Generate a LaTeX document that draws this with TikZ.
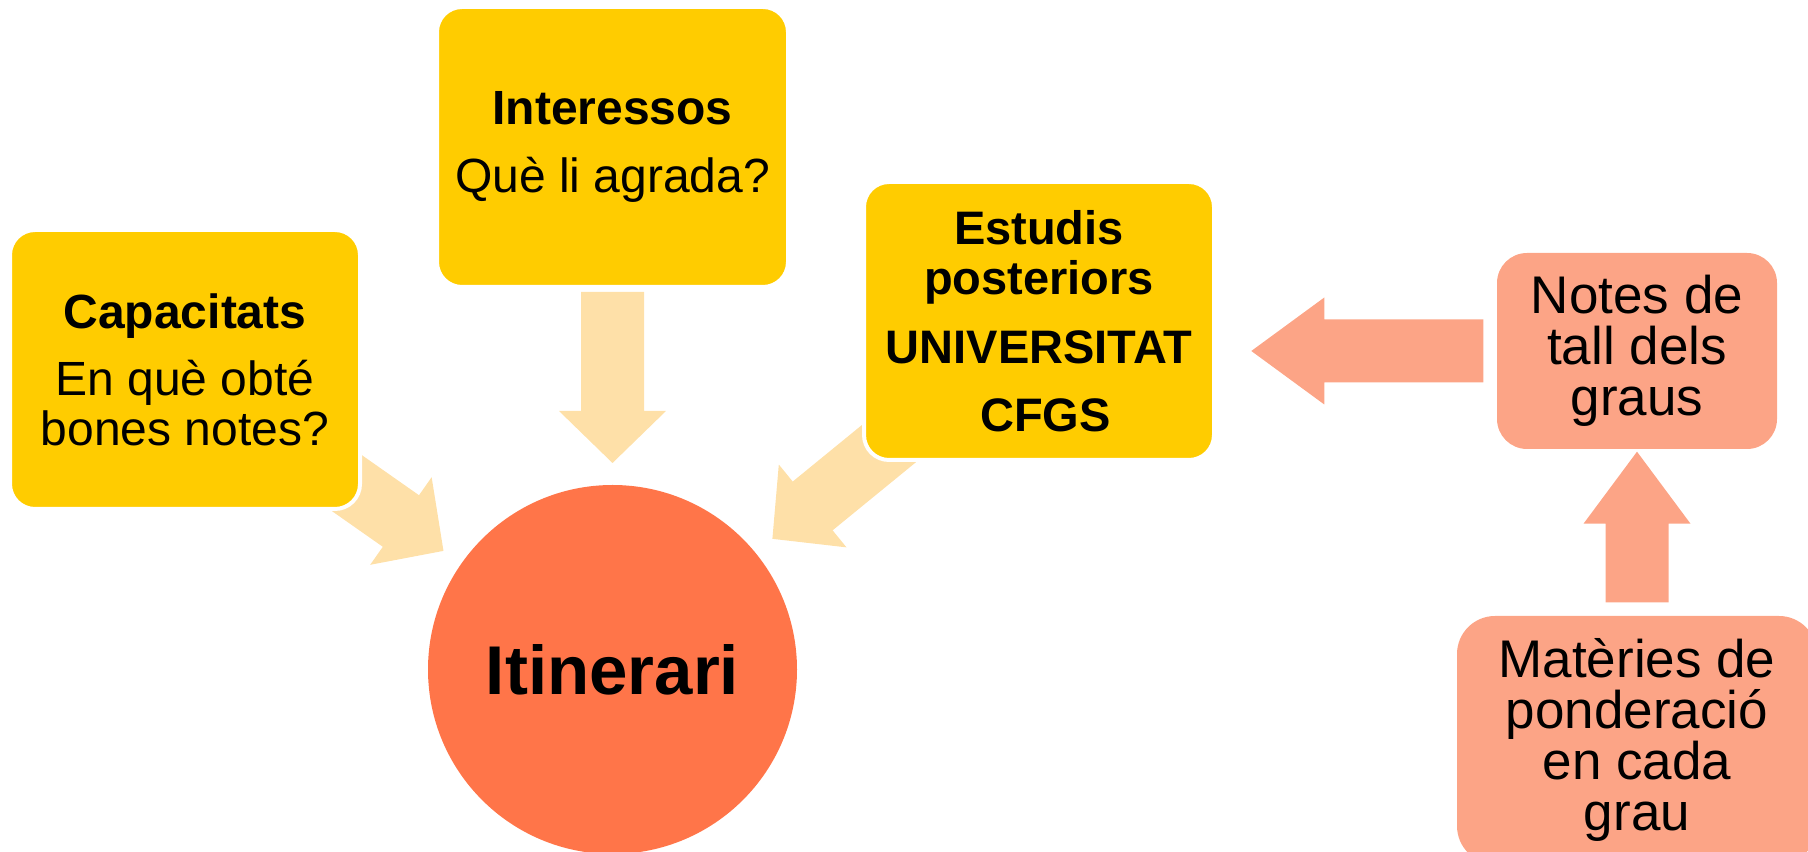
\documentclass[tikz,border=0pt]{standalone}
\usepackage{fontspec}
\setmainfont{Liberation Sans}
\usetikzlibrary{calc,backgrounds}
\definecolor{boxyellow}{HTML}{FFCC00}
\definecolor{arrowpale}{HTML}{FEE0A8}
\definecolor{hubred}{HTML}{FF7549}
\definecolor{boxsalmon}{HTML}{FCA486}
\newcommand\blockarrow[4]{%
  \path ($(#4)!#2!(#3)$) coordinate (hb);
  \fill[#1] ($(#3)!3.15mm!90:(#4)$) -- ($(hb)!3.15mm!90:(#4)$) -- ($(hb)!5.35mm!90:(#4)$) -- (#4)
    -- ($(hb)!5.35mm!-90:(#4)$) -- ($(hb)!3.15mm!-90:(#4)$) -- ($(#3)!3.15mm!-90:(#4)$) -- cycle;}

\begin{document}
\begin{tikzpicture}[x=0.1mm,y=-0.1mm,
  ybox/.style={fill=boxyellow,draw=white,line width=0.4mm,rounded corners=2.5mm,
    align=center,inner sep=0pt,font=\fontsize{4.8mm}{5mm}\selectfont},
  sbox/.style={fill=boxsalmon,rounded corners=3mm,align=center,inner sep=0pt,
    font=\fontsize{5.3mm}{5.1mm}\selectfont},
  hub/.style={circle,fill=hubred,inner sep=0pt,minimum size=36.9mm,
    font=\fontsize{6.9mm}{7mm}\selectfont\bfseries},
]
\useasboundingbox (0,0) rectangle (1808,852);
\node[hub] (iti) at (612.5,669.5) {Itinerari};
\node[ybox,minimum width=35mm,minimum height=27.9mm] (cap) at (185,369.5)
  {{\bfseries Capacitats}\\[1.7mm] En què obté\\ bones notes?};
\node[ybox,minimum width=35.1mm,minimum height=28mm] (inter) at (612.5,147)
  {{\bfseries Interessos}\\[1.8mm] Què li agrada?};
\node[ybox,minimum width=35mm,minimum height=27.8mm,font=\fontsize{4.7mm}{5mm}\selectfont\bfseries] (estud) at (1039,321)
  {Estudis\\ posteriors\\[1.9mm] UNIVERSITAT\\[1.8mm] \hspace*{1.3mm}CFGS};
\node[sbox,minimum width=28mm,minimum height=19.6mm] (notes) at (1637,351)
  {Notes de\\ tall dels\\ graus};
\node[sbox,rounded corners=3.8mm,minimum width=36mm,minimum height=24.8mm] (mat) at (1637,740)
  {Matèries de\\ ponderació\\ en cada\\ grau};
\begin{scope}[on background layer]
\foreach \n in {cap,inter,estud}{
  \coordinate (\n-t) at ($(iti)!37.75mm!(\n)$);
  \coordinate (\n-p) at ($(iti)!20.65mm!(\n)$);
  \blockarrow{arrowpale}{5.2mm}{\n-t}{\n-p}
}
\coordinate (notes-t) at ([xshift=-1.3mm]notes.west);
\coordinate (notes-p) at ([xshift=-24.5mm]notes.west);
\blockarrow{boxsalmon}{7.3mm}{notes-t}{notes-p}
\coordinate (mat-t) at ([yshift=1.3mm]mat.north);
\coordinate (mat-p) at ([yshift=-0.2mm]notes.south);
\blockarrow{boxsalmon}{7.2mm}{mat-t}{mat-p}
\end{scope}
\end{tikzpicture}
\end{document}
